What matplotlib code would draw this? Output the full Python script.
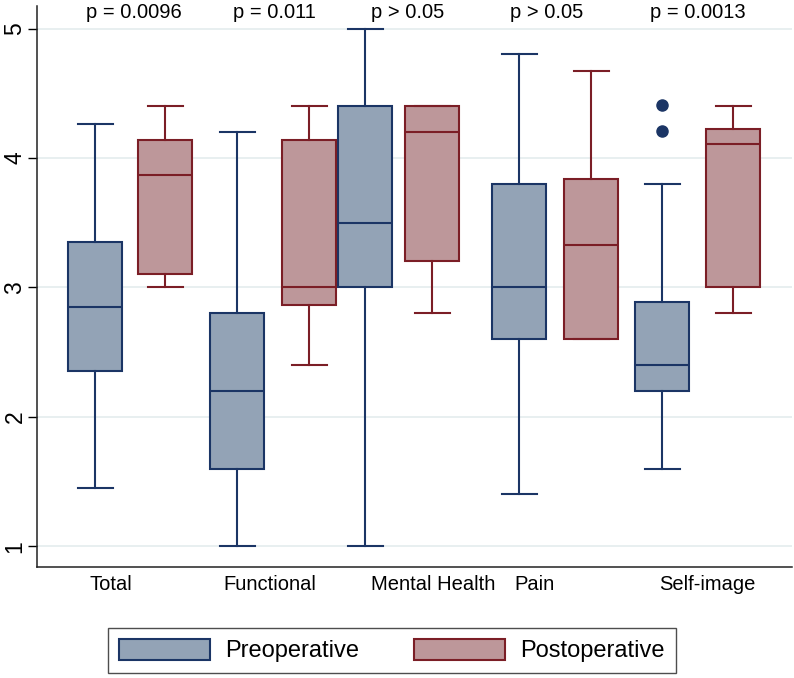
#!/usr/bin/env python3
import numpy as np
import matplotlib
matplotlib.use("Agg")
import matplotlib.pyplot as plt
from matplotlib.patches import Patch

# ---- DATA ----
categories = ["Total", "Functional", "Mental Health", "Pain", "Self-image"]
p_labels = ["p = 0.0096", "p = 0.011", "p > 0.05", "p > 0.05", "p = 0.0013"]

pre_lo = [1.45, 1.0, 1.0, 1.4, 1.6]
pre_q1 = [2.35, 1.6, 3.0, 2.6, 2.2]
pre_med = [2.85, 2.2, 3.5, 3.0, 2.4]
pre_q3 = [3.35, 2.8, 4.4, 3.8, 2.89]
pre_hi = [4.26, 4.2, 5.0, 4.8, 3.8]
pre_out = [[], [], [], [], [4.21, 4.41]]

post_lo = [3.0, 2.4, 2.8, 2.6, 2.8]
post_q1 = [3.1, 2.86, 3.2, 2.6, 3.0]
post_med = [3.87, 3.0, 4.2, 3.33, 4.11]
post_q3 = [4.14, 4.14, 4.4, 3.84, 4.22]
post_hi = [4.4, 4.4, 4.4, 4.67, 4.4]
post_out = [[], [], [], [], []]

# ---- LAYOUT (x in pixel-like units from the left spine) ----
pre_pos = [58, 200, 328, 482, 625]
post_pos = [128, 272, 395, 554, 696]
label_pos = [74, 233, 396, 498, 670]
p_pos = [97, 237, 371, 510, 661]
box_w = 54
cap_w = 35

pre_face, pre_edge = "#93a3b6", "#1b3565"
post_face, post_edge = "#bd979a", "#7b1e26"

plt.rcParams["font.family"] = ["Liberation Sans", "DejaVu Sans"]


def make_stats(lo, q1, med, q3, hi, out):
    return [dict(whislo=a, q1=b, med=c, q3=d, whishi=e, fliers=np.array(f))
            for a, b, c, d, e, f in zip(lo, q1, med, q3, hi, out)]


def draw(ax, stats, pos, face, edge):
    lw = 1.5
    ax.bxp(stats, positions=pos, widths=box_w, capwidths=cap_w,
           patch_artist=True, manage_ticks=False,
           boxprops=dict(facecolor=face, edgecolor=edge, linewidth=lw),
           medianprops=dict(color=edge, linewidth=lw),
           whiskerprops=dict(color=edge, linewidth=lw),
           capprops=dict(color=edge, linewidth=lw),
           flierprops=dict(marker="o", markerfacecolor=edge,
                           markeredgecolor=edge, markersize=8))


fig = plt.figure(figsize=(7.94, 6.78), dpi=100)
ax = fig.add_axes([37 / 794, 1 - 567 / 678, 755 / 794, 561 / 678])

draw(ax, make_stats(pre_lo, pre_q1, pre_med, pre_q3, pre_hi, pre_out),
     pre_pos, pre_face, pre_edge)
draw(ax, make_stats(post_lo, post_q1, post_med, post_q3, post_hi, post_out),
     post_pos, post_face, post_edge)

ax.set_xlim(0, 755)
ax.set_ylim(0.839, 5.174)
ax.set_yticks([1, 2, 3, 4, 5])
ax.set_yticklabels(["1", "2", "3", "4", "5"], rotation=90, va="center",
                   fontsize=16.5)
ax.tick_params(axis="y", length=6.5, width=1, pad=1)
ax.set_xticks(label_pos)
ax.set_xticklabels(categories, fontsize=14.5)
ax.tick_params(axis="x", length=0, pad=6)

ax.grid(axis="y", color="#e4ecee", linewidth=1.2)
ax.set_axisbelow(True)
for s in ["top", "right"]:
    ax.spines[s].set_visible(False)
for s in ["left", "bottom"]:
    ax.spines[s].set_linewidth(1.1)
    ax.spines[s].set_color("#222222")

for x, t in zip(p_pos, p_labels):
    ax.text(x, 5.08, t, ha="center", va="baseline", fontsize=14.5)

handles = [Patch(facecolor=pre_face, edgecolor=pre_edge, linewidth=1.5,
                 label="Preoperative"),
           Patch(facecolor=post_face, edgecolor=post_edge, linewidth=1.5,
                 label="Postoperative")]
leg = fig.legend(handles=handles, loc="center", ncol=2,
                 bbox_to_anchor=(392 / 794, 1 - 650.5 / 678),
                 fontsize=17, frameon=True, fancybox=False, shadow=False,
                 handlelength=3.85, handleheight=1.0, handletextpad=0.67,
                 columnspacing=2.3, borderpad=0.45)
leg.get_frame().set_edgecolor("#222222")
leg.get_frame().set_linewidth(1.0)

fig.savefig("out.png", dpi=100)
